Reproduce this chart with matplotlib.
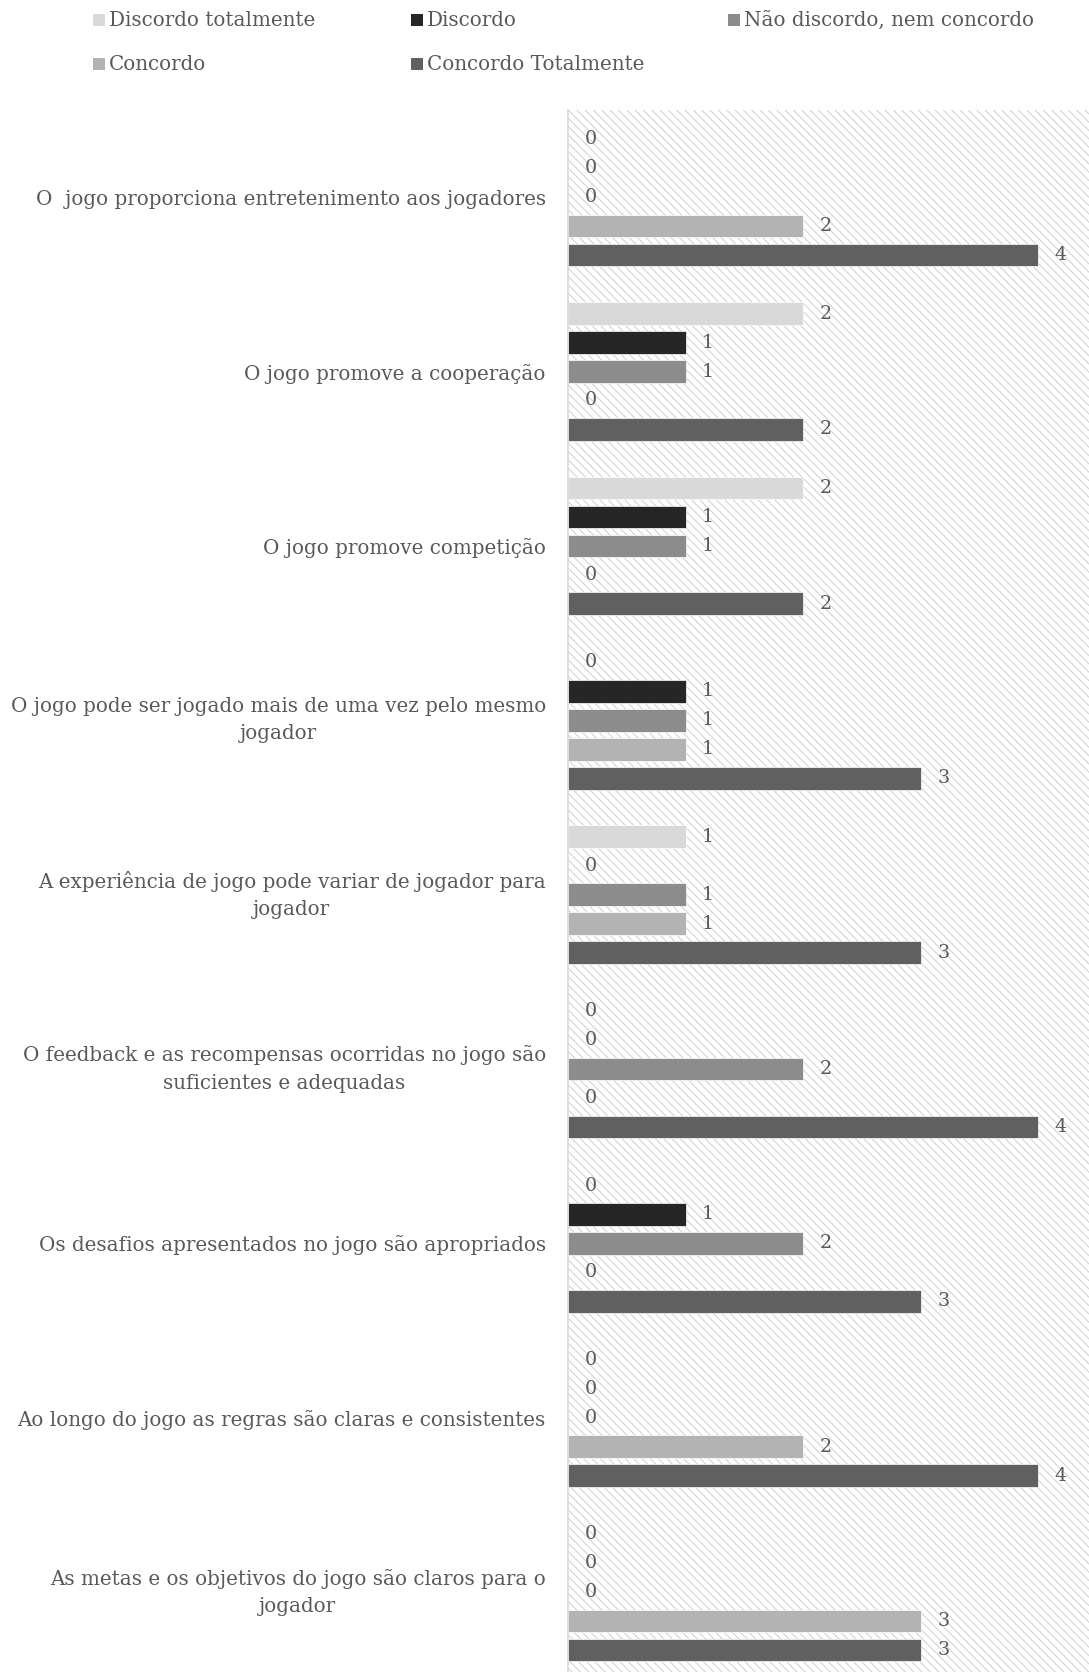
import matplotlib
matplotlib.use("Agg")
import matplotlib.pyplot as plt
from matplotlib.patches import Rectangle
import numpy as np

# Survey statements (top to bottom) and response counts per answer
statements = [
    "O  jogo proporciona entretenimento aos jogadores",
    "O jogo promove a cooperação",
    "O jogo promove competição",
    "O jogo pode ser jogado mais de uma vez pelo mesmo\njogador",
    "A experiência de jogo pode variar de jogador para\njogador",
    "O feedback e as recompensas ocorridas no jogo são\nsuficientes e adequadas",
    "Os desafios apresentados no jogo são apropriados",
    "Ao longo do jogo as regras são claras e consistentes",
    "As metas e os objetivos do jogo são claros para o\njogador",
]
answers = [
    "Discordo totalmente",
    "Discordo",
    "Não discordo, nem concordo",
    "Concordo",
    "Concordo Totalmente",
]
discordo_totalmente = [0, 2, 2, 0, 1, 0, 0, 0, 0]
discordo = [0, 1, 1, 1, 0, 0, 1, 0, 0]
neutro = [0, 1, 1, 1, 1, 2, 2, 0, 0]
concordo = [2, 0, 0, 1, 1, 0, 0, 2, 3]
concordo_totalmente = [4, 2, 2, 3, 3, 4, 3, 4, 3]
series = [discordo_totalmente, discordo, neutro, concordo, concordo_totalmente]
colors = ["#d9d9d9", "#262626", "#8c8c8c", "#b3b3b3", "#606060"]

TEXT = "#595959"
FONT = "DejaVu Serif"
plt.rcParams["font.family"] = [FONT]
plt.rcParams["hatch.linewidth"] = 0.7

W, H, DPI = 1089, 1672, 100
fig = plt.figure(figsize=(W / DPI, H / DPI), dpi=DPI)
ax = fig.add_axes([568 / W, 0, 1 - 568 / W, 1 - 110 / H])

# diagonal-line background of the plot area
ax.add_patch(Rectangle((0, 0), 1, 1, transform=ax.transAxes, facecolor="white",
                       edgecolor="#cfcfcf", hatch="\\\\\\\\", linewidth=0, zorder=0))

y = np.arange(len(statements))
pitch = 0.166
height = 0.13
for j, (vals, col) in enumerate(zip(series, colors)):
    bars = ax.barh(y + (j - 2) * pitch, vals, height=height, color=col,
                   edgecolor="white", linewidth=0.5, zorder=2, label=answers[j])
    ax.bar_label(bars, labels=[str(v) for v in vals], padding=12,
                 color=TEXT, fontsize=13.8, family=FONT)

ax.set_xlim(0, 4.434)
ax.set_ylim(8.458, -0.5)
ax.set_xticks([])
ax.set_yticks(y)
ax.set_yticklabels(statements, fontsize=14.3, color=TEXT, multialignment="center",
                   linespacing=1.54)
for lbl in ax.get_yticklabels():
    if "\n" in lbl.get_text():
        lbl.set_verticalalignment("center")
ax.tick_params(axis="y", length=0, pad=16)
for s in ["top", "right", "bottom"]:
    ax.spines[s].set_visible(False)
ax.spines["left"].set_color("#d9d9d9")
ax.spines["left"].set_linewidth(1.2)

# legend laid out in rows of three
col_x = [93, 411, 728]
row_y = [20, 64]
for k, (name, col) in enumerate(zip(answers, colors)):
    cx = col_x[k % 3]
    cy = row_y[k // 3]
    fig.add_artist(Rectangle((cx / W, 1 - (cy + 6) / H), 12 / W, 12 / H,
                             transform=fig.transFigure, facecolor=col, edgecolor="none"))
    fig.text((cx + 16) / W, 1 - cy / H, name, ha="left", va="center",
             fontsize=14.3, color=TEXT)

fig.savefig("out.png", dpi=DPI)
